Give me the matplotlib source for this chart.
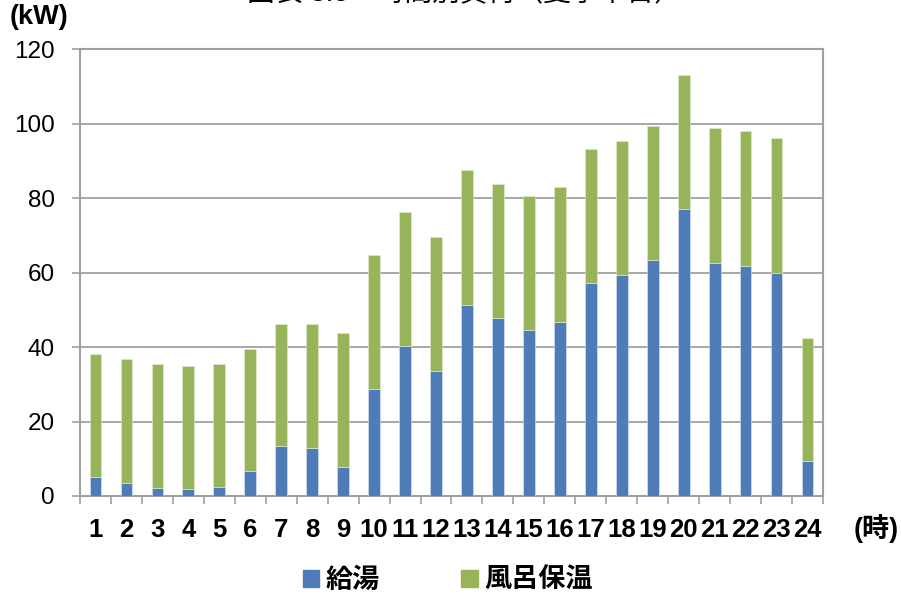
import numpy as np
import matplotlib
matplotlib.use("Agg")
from matplotlib import pyplot as plt
from matplotlib.patches import Patch

plt.rcParams['font.family'] = ['Liberation Sans', 'Noto Sans CJK JP', 'DejaVu Sans']

# hourly load (kW)
hours = [str(h) for h in range(1, 25)]
kyuto = [5.1, 3.5, 2.2, 1.8, 2.4, 6.6, 13.3, 13.0, 7.8, 28.8, 40.2, 33.7,
         51.4, 47.9, 44.5, 46.8, 57.1, 59.3, 63.4, 77.1, 62.7, 61.9, 60.0, 9.3]
furo = [33.1, 33.2, 33.2, 33.2, 33.1, 33.0, 33.0, 33.2, 36.0, 36.0, 36.0, 36.0,
        36.2, 36.0, 36.1, 36.1, 36.1, 36.1, 36.0, 36.0, 36.2, 36.1, 36.1, 33.1]
series_names = ['給湯', '風呂保温']
yticks = [0, 20, 40, 60, 80, 100, 120]

blue = '#4F7BB6'
green = '#98B45A'
gray = '#A0A0A0'

fig = plt.figure(figsize=(9.01, 5.97), dpi=100)
ax = fig.add_axes([0.0888, 0.1692, 0.8246, 0.7482])

x = np.arange(len(hours))
ax.bar(x, kyuto, width=0.38, color=blue, edgecolor='#DCE6F2', linewidth=0.4, zorder=3)
ax.bar(x, furo, width=0.38, bottom=kyuto, color=green, edgecolor='#E4EDD3',
       linewidth=0.4, zorder=3)

ax.set_xlim(-0.5, len(hours) - 0.5)
ax.set_ylim(0, 120)
ax.set_yticks(yticks)
ax.set_yticklabels([str(v) for v in yticks], fontsize=17.5)
ax.set_xticks(x)
ax.set_xticklabels(hours, fontsize=18.5, fontweight='bold')
ax.set_xticks(np.arange(len(hours) + 1) - 0.5, minor=True)
ax.tick_params(axis='x', which='major', length=0, pad=16)
ax.tick_params(axis='x', which='minor', length=6, width=1.2, color=gray, direction='out')
ax.tick_params(axis='y', which='major', length=6, width=1.2, color=gray, pad=12)

ax.grid(axis='y', color=gray, linewidth=1.3, zorder=0)
for s in ax.spines.values():
    s.set_color(gray)
    s.set_linewidth(1.5)

fig.text(0.011, 0.950, '(kW)', fontsize=19.5, fontweight='bold', ha='left', va='bottom')
fig.text(0.972, 0.114, '(時)', fontsize=19.5, fontweight='bold', ha='center', va='center')
fig.text(0.515, 0.988, '図表 3.5　時間別負荷（夏季平日）', fontsize=20, ha='center', va='bottom')

handles = [Patch(color=blue), Patch(color=green)]
fig.legend(handles, series_names, loc='center', bbox_to_anchor=(0.497, 0.027),
           ncol=2, frameon=False, prop={'size': 19.5, 'weight': 'bold'},
           handlelength=0.6, handleheight=0.6, handletextpad=0.25, columnspacing=3.0)

fig.savefig('out.png', dpi=100)
